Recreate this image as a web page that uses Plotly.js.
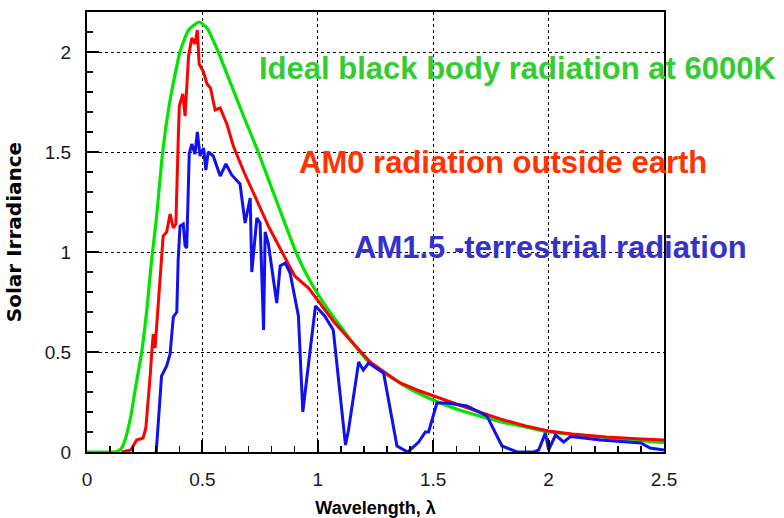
<!DOCTYPE html>
<html>
<head>
<meta charset="utf-8">
<script src="https://cdn.plot.ly/plotly-3.0.1.min.js"></script>
<style>html,body{margin:0;padding:0;background:#fff;}#chart{width:784px;height:518px;}</style>
</head>
<body>
<div id="chart"></div>
<script>
// Ideal black body (6000K), scaled
const bbX = [0, 0.10, 0.13, 0.15, 0.165, 0.19, 0.21, 0.237, 0.26, 0.28, 0.30, 0.328, 0.36, 0.403, 0.44, 0.486, 0.52, 0.569, 0.62, 0.68, 0.742, 0.80, 0.85, 0.905, 0.95, 1.0, 1.1, 1.213, 1.3, 1.4, 1.5, 1.6, 1.7, 1.79, 1.9, 2.0, 2.1, 2.225, 2.35, 2.5];
const bbY = [0, 0, 0.003, 0.02, 0.06, 0.18, 0.32, 0.5, 0.72, 0.96, 1.16, 1.5, 1.76, 2.0, 2.11, 2.15, 2.12, 2.0, 1.85, 1.675, 1.5, 1.32, 1.167, 1.0, 0.89, 0.79, 0.625, 0.46, 0.385, 0.315, 0.26, 0.215, 0.18, 0.152, 0.125, 0.10, 0.088, 0.075, 0.062, 0.047];

// AM0 spectrum
const am0X = [0.15, 0.19, 0.215, 0.243, 0.255, 0.265, 0.275, 0.28, 0.287, 0.295, 0.30, 0.31, 0.323, 0.33, 0.345, 0.36, 0.374, 0.385, 0.395, 0.40, 0.415, 0.425, 0.44, 0.454, 0.468, 0.478, 0.486, 0.505, 0.52, 0.535, 0.555, 0.577, 0.606, 0.634, 0.68, 0.736, 0.79, 0.845, 0.90, 0.96, 1.0, 1.07, 1.14, 1.227, 1.3, 1.357, 1.43, 1.5, 1.6, 1.7, 1.79, 1.9, 2.0, 2.1, 2.25, 2.4, 2.5];
const am0Y = [0, 0.01, 0.06, 0.07, 0.12, 0.245, 0.40, 0.49, 0.59, 0.52, 0.6, 0.8, 0.96, 1.08, 1.10, 1.19, 1.12, 1.14, 1.55, 1.73, 1.79, 1.68, 1.98, 2.07, 2.04, 2.11, 1.94, 1.90, 1.84, 1.82, 1.71, 1.72, 1.64, 1.53, 1.40, 1.26, 1.12, 1.00, 0.88, 0.82, 0.76, 0.65, 0.56, 0.45, 0.39, 0.345, 0.31, 0.28, 0.24, 0.20, 0.165, 0.13, 0.105, 0.09, 0.075, 0.065, 0.06];

// AM1.5 spectrum
const am15X = [0.30, 0.31, 0.323, 0.345, 0.36, 0.374, 0.389, 0.395, 0.403, 0.417, 0.425, 0.432, 0.443, 0.454, 0.468, 0.478, 0.49, 0.505, 0.515, 0.525, 0.547, 0.577, 0.602, 0.627, 0.663, 0.685, 0.707, 0.714, 0.736, 0.75, 0.765, 0.772, 0.786, 0.822, 0.837, 0.859, 0.88, 0.916, 0.935, 0.967, 0.99, 1.03, 1.067, 1.12, 1.133, 1.177, 1.197, 1.22, 1.285, 1.343, 1.39, 1.437, 1.466, 1.48, 1.516, 1.56, 1.646, 1.733, 1.748, 1.798, 1.863, 1.935, 1.957, 1.986, 2.0, 2.03, 2.065, 2.095, 2.225, 2.37, 2.4, 2.44, 2.5];
const am15Y = [0, 0.15, 0.38, 0.43, 0.49, 0.675, 0.70, 0.96, 1.13, 1.14, 1.03, 1.02, 1.49, 1.54, 1.49, 1.60, 1.48, 1.52, 1.41, 1.50, 1.48, 1.38, 1.44, 1.385, 1.34, 1.145, 1.27, 0.90, 1.17, 1.145, 0.61, 1.10, 1.04, 0.745, 0.93, 0.945, 0.895, 0.68, 0.2, 0.51, 0.73, 0.68, 0.61, 0.035, 0.11, 0.45, 0.41, 0.445, 0.395, 0.03, 0, 0.05, 0.1, 0.1, 0.245, 0.245, 0.23, 0.18, 0.145, 0.03, 0, 0, 0.01, 0.095, 0.01, 0.085, 0.05, 0.077, 0.06, 0.05, 0.045, 0.02, 0.01];

const xTickVals = [0, 0.5, 1, 1.5, 2, 2.5];
const xTickText = ['0', '0.5', '1', '1.5', '2', '2.5'];
const yTickVals = [0, 0.5, 1, 1.5, 2];
const yTickText = ['0', '0.5', '1', '1.5', '2'];

const labels = ['Ideal black body radiation at 6000K', 'AM0 radiation outside earth', 'AM1.5 -terrestrial radiation'];

const traces = [
  {x: bbX, y: bbY, mode: 'lines', line: {color: '#00e400', width: 3.2, shape: 'spline', smoothing: 0.5}, hoverinfo: 'skip'},
  {x: am0X, y: am0Y, mode: 'lines', line: {color: '#ff0000', width: 3}, hoverinfo: 'skip'},
  {x: am15X, y: am15Y, mode: 'lines', line: {color: '#1010f0', width: 3}, hoverinfo: 'skip'}
];

const axisCommon = {
  showline: true, linecolor: '#000', linewidth: 2, mirror: true,
  ticks: 'inside', ticklen: 12, tickwidth: 2, tickcolor: '#000',
  showgrid: true, gridcolor: '#000', gridwidth: 1, griddash: 'dot',
  zeroline: false,
  tickfont: {family: 'Liberation Sans, Arial, sans-serif', size: 19, color: '#1a1a1a'},
  minor: {dtick: 0.1, ticks: 'inside', ticklen: 6, tickwidth: 1.5, tickcolor: '#000', showgrid: false}
};

const layout = {
  width: 784, height: 518,
  margin: {l: 87, r: 120, t: 12, b: 66},
  paper_bgcolor: '#fff', plot_bgcolor: '#fff',
  showlegend: false,
  xaxis: Object.assign({}, axisCommon, {
    range: [0, 2.5], tickmode: 'array', tickvals: xTickVals, ticktext: xTickText,
    ticklabelstandoff: 9,
    title: {text: 'Wavelength, λ', font: {family: 'Liberation Sans, Arial, sans-serif', size: 18, color: '#000', weight: 'bold'}, standoff: 16}
  }),
  yaxis: Object.assign({}, axisCommon, {
    range: [0, 2.2], tickmode: 'array', tickvals: yTickVals, ticktext: yTickText,
    ticklabelstandoff: 10,
    title: {text: 'Solar Irradiance', font: {family: 'DejaVu Sans, sans-serif', size: 20, color: '#000', weight: 'bold'}, standoff: 18}
  }),
  annotations: [
    {text: labels[0], x: 0.737, y: 1.92, xref: 'x', yref: 'y', xanchor: 'left', yanchor: 'middle', showarrow: false,
     font: {family: 'Liberation Sans, Arial, sans-serif', size: 31, color: '#33cc33', weight: 'bold'}},
    {text: labels[1], x: 0.911, y: 1.45, xref: 'x', yref: 'y', xanchor: 'left', yanchor: 'middle', showarrow: false,
     font: {family: 'Liberation Sans, Arial, sans-serif', size: 31, color: '#ff3300', weight: 'bold'}},
    {text: labels[2], x: 1.149, y: 1.025, xref: 'x', yref: 'y', xanchor: 'left', yanchor: 'middle', showarrow: false,
     font: {family: 'Liberation Sans, Arial, sans-serif', size: 31, color: '#3333cc', weight: 'bold'}}
  ]
};

Plotly.newPlot('chart', traces, layout, {displayModeBar: false, staticPlot: true});
</script>
</body>
</html>
